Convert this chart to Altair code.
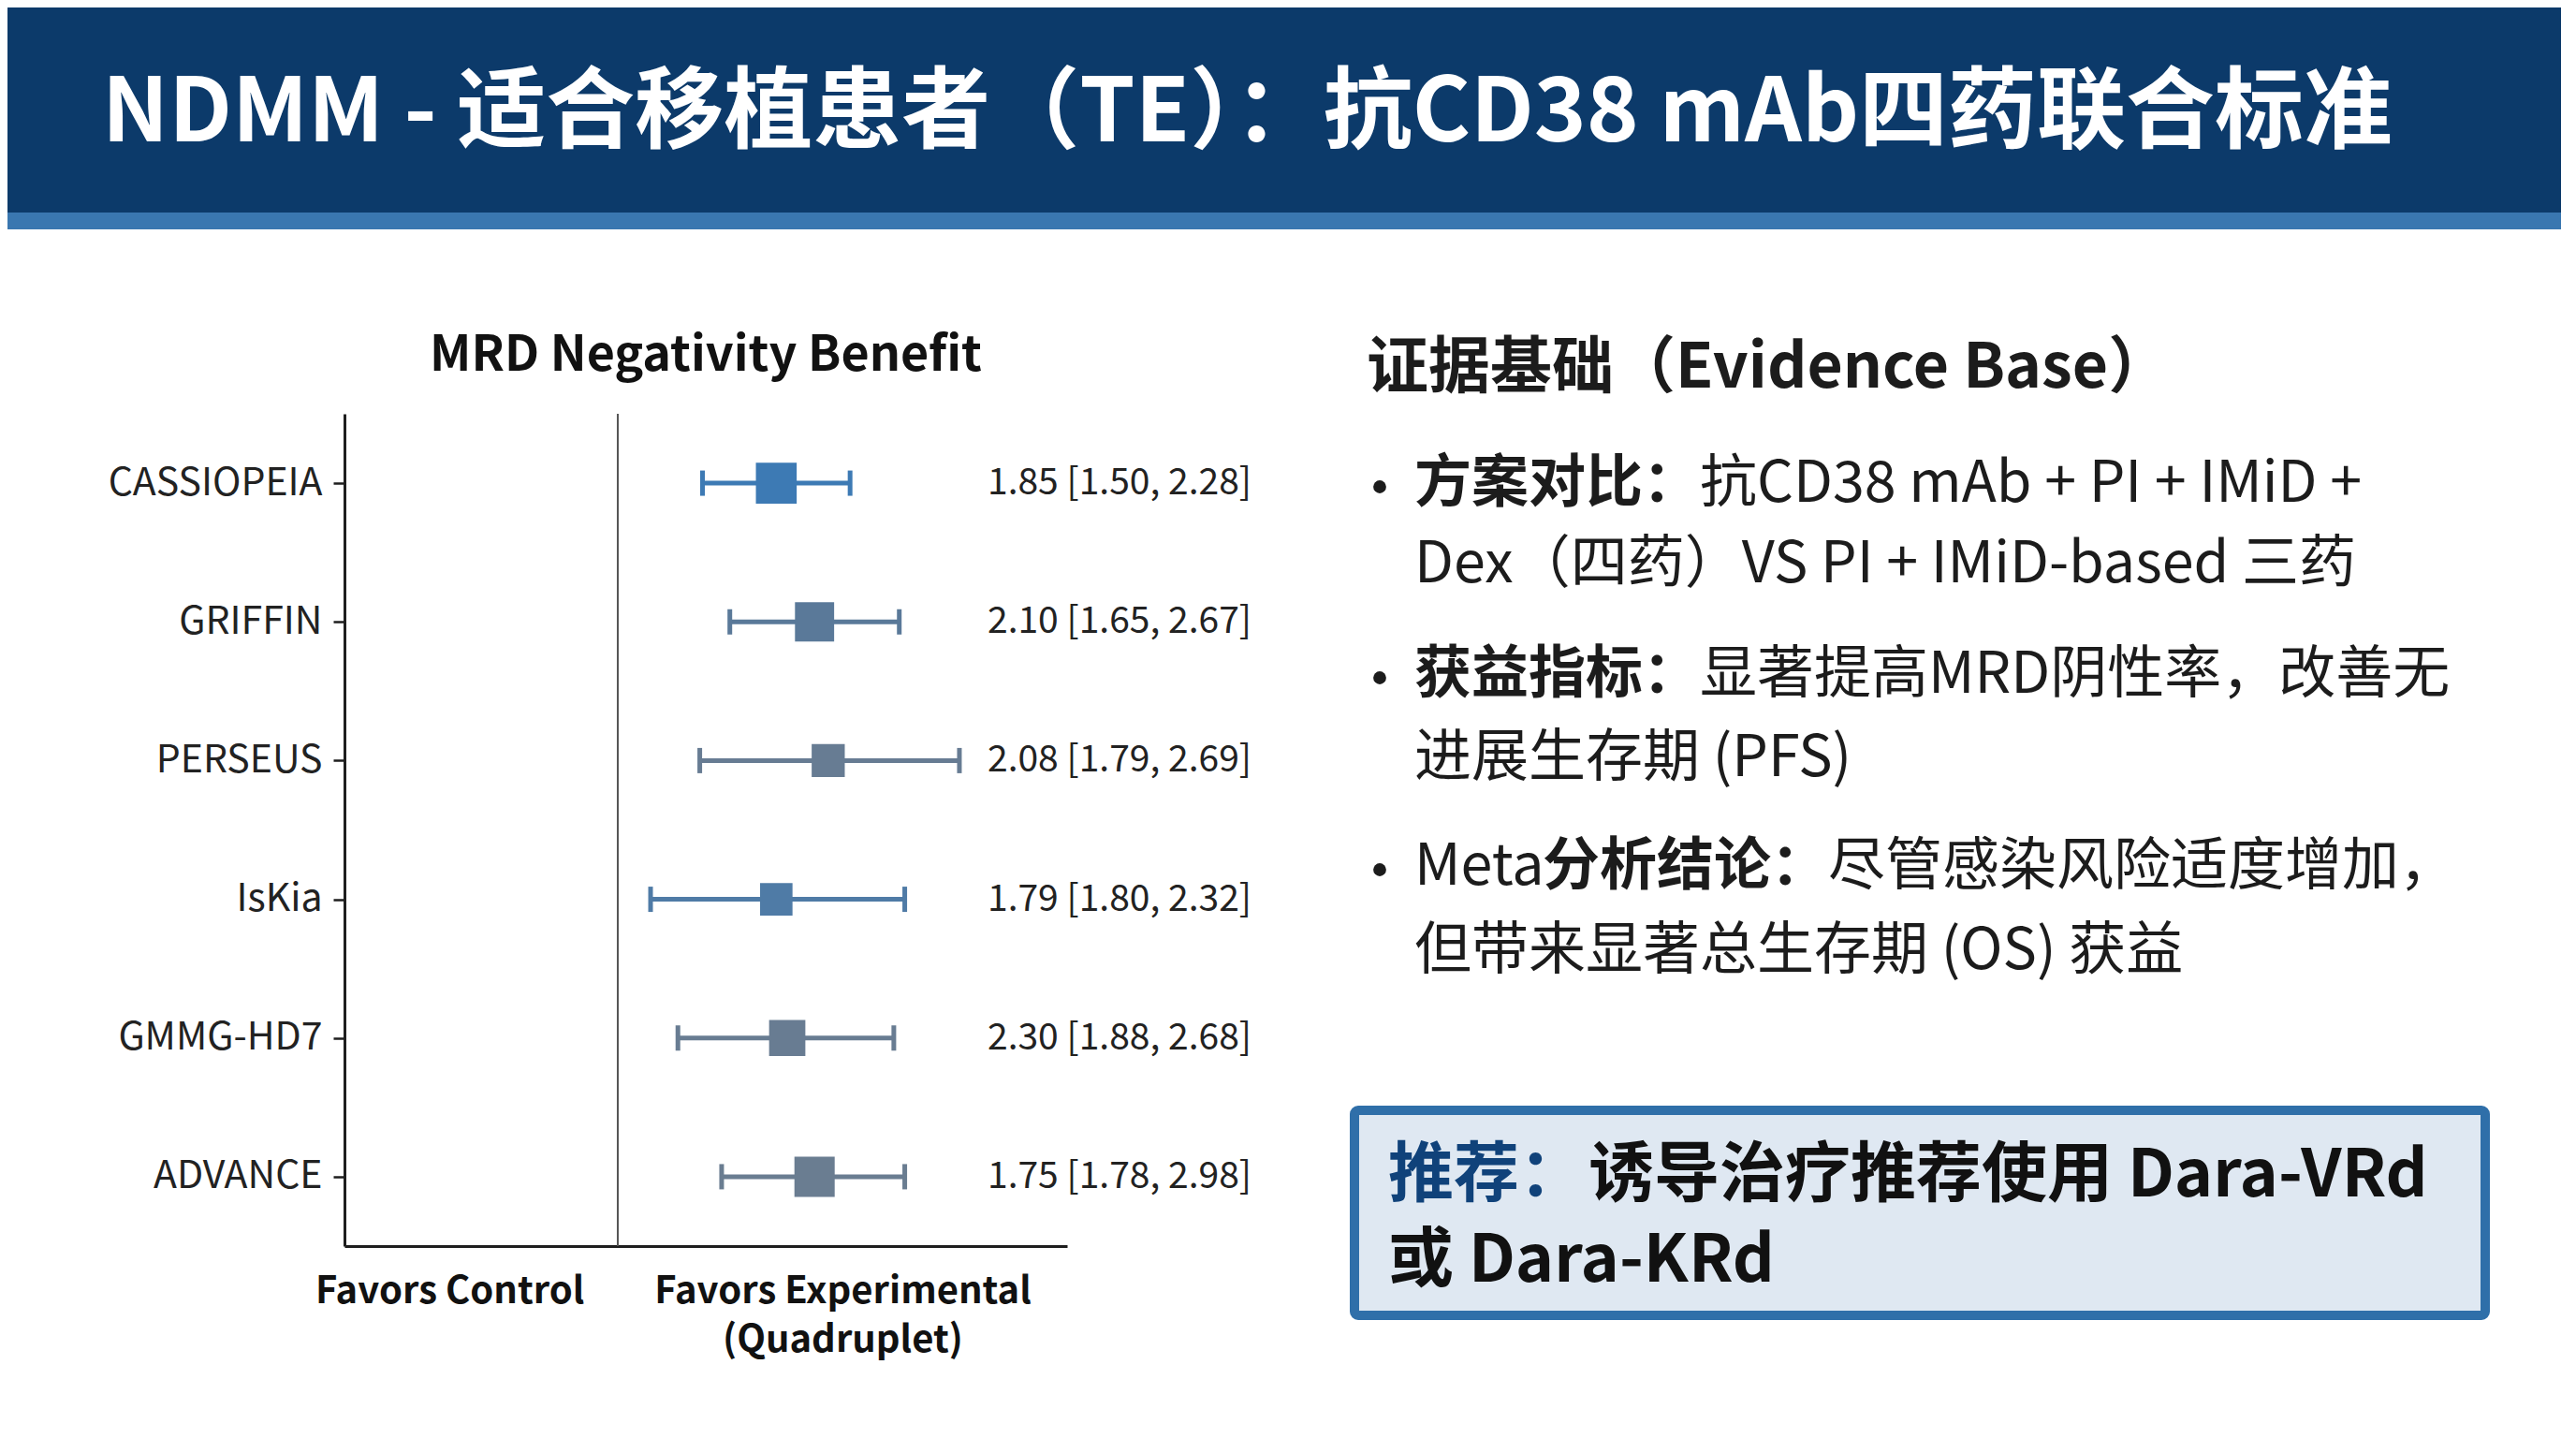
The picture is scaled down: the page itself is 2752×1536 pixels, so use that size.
import altair as alt
import pandas as pd

FONT = "Noto Sans CJK SC"

# ---------------- data ----------------
studies = ["CASSIOPEIA", "GRIFFIN", "PERSEUS", "IsKia", "GMMG-HD7", "ADVANCE"]
point_est = [1.58, 1.72, 1.77, 1.58, 1.62, 1.72]
ci_low = [1.31, 1.41, 1.30, 1.12, 1.22, 1.38]
ci_high = [1.85, 2.03, 2.25, 2.05, 2.01, 2.05]
weights = [19, 17.5, 12.5, 12, 15, 18.5]
value_labels = [
    "1.85 [1.50, 2.28]",
    "2.10 [1.65, 2.67]",
    "2.08 [1.79, 2.69]",
    "1.79 [1.80, 2.32]",
    "2.30 [1.88, 2.68]",
    "1.75 [1.78, 2.98]",
]
study_colors = ["#3d7ab4", "#5a7999", "#677c93", "#4f7ba6", "#687c92", "#6a7d91"]
x_label_values = [0.384, 1.822]

df = pd.DataFrame({
    "study": studies,
    "est": point_est,
    "lo": ci_low,
    "hi": ci_high,
    "weight": weights,
    "label": value_labels,
})

# ---------------- layout ----------------
W, H = 772, 889            # forest plot area
OX, OY = 368, 442          # page position of plot origin
TOTAL_W, TOTAL_H = 2728, 1512
PAD = {"left": OX - 8, "top": OY - 8,
       "right": TOTAL_W - (OX - 8) - W, "bottom": TOTAL_H - (OY - 8) - H}

deco = pd.DataFrame({"k": [0]})


def rect(x1, y1, x2, y2, **kw):
    return alt.Chart(deco).mark_rect(**kw).encode(
        x=alt.value(x1 - OX), x2=alt.value(x2 - OX),
        y=alt.value(y1 - OY), y2=alt.value(y2 - OY))


def text(s, x, y, size, weight="normal", color="#1c1c1c", align="left"):
    return alt.Chart(deco).mark_text(
        text=s, font=FONT, fontSize=size, fontWeight=weight, color=color,
        align=align, baseline="middle", limit=0).encode(
        x=alt.value(x - OX), y=alt.value(y - OY))


def dot(x, y):
    return alt.Chart(deco).mark_circle(size=190, color="#1c1c1c", opacity=1).encode(
        x=alt.value(x - OX), y=alt.value(y - OY))


# ---------------- forest plot ----------------
x_scale = alt.Scale(domain=[0, 2.644], nice=False, zero=False)
x_axis = alt.Axis(
    title=None, values=x_label_values, ticks=False, grid=False,
    labelExpr="datum.value < 1 ? 'Favors Control' : ['Favors Experimental', '(Quadruplet)']",
    labelFont=FONT, labelFontSize=40, labelFontWeight="bold", labelColor="#111",
    labelPadding=28, labelBaseline="top", labelLineHeight=52, labelLimit=0,
    labelOverlap=False, labelFlush=False, labelBound=False,
    domainColor="#1e1e1e", domainWidth=3)
y_axis = alt.Axis(
    title=None, grid=False, labelFont=FONT, labelFontSize=41, labelColor="#222",
    labelPadding=12, tickSize=12, tickWidth=2.5, tickColor="#1e1e1e", labelLimit=0,
    domainColor="#1e1e1e", domainWidth=3)
y_enc = alt.Y("study:N", sort=studies,
              scale=alt.Scale(type="point", domain=studies, padding=0.5),
              axis=y_axis)
color_enc = alt.Color("study:N", scale=alt.Scale(domain=studies, range=study_colors),
                      legend=None)

base = alt.Chart(df)

ref_line = alt.Chart(deco).mark_rule(color="#555555", strokeWidth=2).encode(
    x=alt.X(datum=1.0, scale=x_scale, axis=x_axis))

whisker = base.mark_rule(strokeWidth=5).encode(
    x=alt.X("lo:Q", scale=x_scale, axis=x_axis), x2="hi:Q", y=y_enc, color=color_enc)

cap_lo = base.mark_tick(thickness=5, size=27, opacity=1).encode(
    x=alt.X("lo:Q", scale=x_scale, axis=x_axis), y=y_enc, color=color_enc)
cap_hi = base.mark_tick(thickness=5, size=27, opacity=1).encode(
    x=alt.X("hi:Q", scale=x_scale, axis=x_axis), y=y_enc, color=color_enc)

squares = base.mark_square(filled=True, opacity=1).encode(
    x=alt.X("est:Q", scale=x_scale, axis=x_axis), y=y_enc, color=color_enc,
    size=alt.Size("weight:Q", scale=alt.Scale(domain=[0, 20], range=[0, 2000]),
                  legend=None))

vals = base.mark_text(align="right", baseline="middle", font=FONT, fontSize=39,
                      color="#222").encode(
    x=alt.value(1337 - OX), y=y_enc, text="label:N")

# ---------------- decorations & text ----------------
layers = [
    rect(8, 8, TOTAL_W + 8, 227, color="#0c3a6a"),
    rect(8, 227, TOTAL_W + 8, 245, color="#3a77b0"),
    text("NDMM - 适合移植患者（TE）：抗CD38 mAb四药联合标准", 109, 122, 95, "bold", "#ffffff"),
    text("MRD Negativity Benefit", OX + W / 2, 380, 52, "bold", "#111111", "center"),
    text("证据基础（Evidence Base）", 1460, 394, 66, "bold", "#1c1c1c"),
    # bullet 1
    dot(1474, 520),
    text("方案对比：", 1511, 518, 61, "bold"),
    text("抗CD38 mAb + PI + IMiD +", 1816, 518, 61),
    text("Dex（四药）VS PI + IMiD-based 三药", 1511, 604, 61),
    # bullet 2
    dot(1474, 724),
    text("获益指标：", 1511, 722, 61, "bold"),
    text("显著提高MRD阴性率，改善无", 1816, 722, 61),
    text("进展生存期 (PFS)", 1511, 811, 61),
    # bullet 3
    dot(1474, 929),
    text("Meta", 1511, 927, 61),
    text("分析结论：", 1648, 927, 61, "bold"),
    text("尽管感染风险适度增加，", 1953, 927, 61),
    text("但带来显著总生存期 (OS) 获益", 1511, 1017, 61),
    # recommendation box
    rect(1447, 1186, 2655, 1405, color="#dfe8f2", stroke="#2f6fa9", strokeWidth=10,
         cornerRadius=4),
    text("推荐：", 1483, 1257, 70, "bold", "#10427a"),
    text("诱导治疗推荐使用 Dara-VRd", 1697, 1257, 70, "bold", "#111111"),
    text("或 Dara-KRd", 1483, 1348, 70, "bold", "#111111"),
    # forest plot
    ref_line, whisker, cap_lo, cap_hi, squares, vals,
]

chart = alt.layer(*layers).properties(
    width=W, height=H, padding=PAD,
    autosize=alt.AutoSizeParams(type="none"),
    background="white",
).configure_view(stroke=None)

chart.save("out.html", embed_options={"renderer": "svg", "actions": False})
